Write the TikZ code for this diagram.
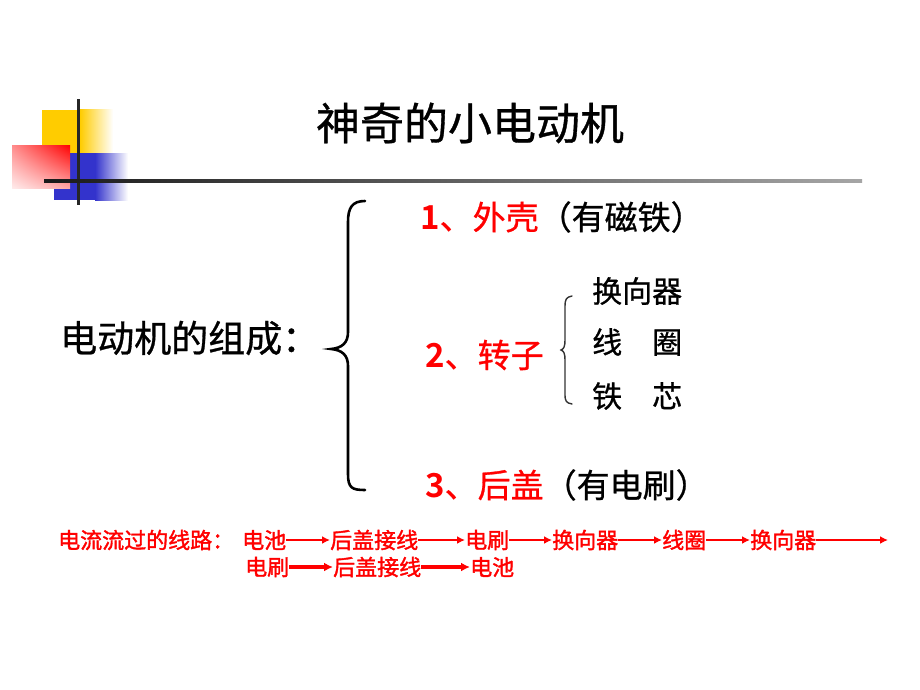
\documentclass[tikz,border=0pt]{standalone}
\usepackage{fontspec}
\newfontfamily\cjk[RawFeature={embolden=0.8}]{Noto Sans CJK SC}
\newfontfamily\cjkf[RawFeature={embolden=1.6}]{Noto Sans CJK SC}
\newfontfamily\cjkb{Noto Sans CJK SC Bold}
\usetikzlibrary{arrows.meta,shadings}
\definecolor{dyellow}{RGB}{255,204,0}
\definecolor{dblue}{RGB}{51,51,204}
\definecolor{dred}{RGB}{255,0,0}
\tikzset{
  txt/.style={inner sep=0pt, anchor=west, font=\cjk},
  title/.style={inner sep=0pt, font=\cjk\fontsize{44}{48}\selectfont},
  big/.style={txt, font=\cjk\fontsize{37}{40}\selectfont},
  mid/.style={txt, font=\cjk\fontsize{33}{36}\selectfont},
  small/.style={txt, font=\cjk\fontsize{30}{33}\selectfont},
  flow/.style={txt, text=dred, font=\cjkf\fontsize{22}{24}\selectfont},
  flowarrow/.style={draw=dred, line width=2.8pt, -{Latex[length=8pt,width=8pt]}},
  flowarrowb/.style={draw=dred, line width=3.8pt, -{Latex[length=9pt,width=9pt]}},
  brace/.style={draw=black, line width=2.6pt, line cap=round},
  sbrace/.style={draw=black!80, line width=1.4pt, line cap=round},
}
\begin{document}
\begin{tikzpicture}[x=1pt,y=-1pt]
\useasboundingbox (0,0) rectangle (920,690);
\fill[white] (0,0) rectangle (920,690);
% decoration
\fill[dyellow] (42,110) rectangle (80,153);
\shade[left color=dyellow, right color=white] (80,110) rectangle (113,153);
\fill[dblue] (54,153) rectangle (95,200);
\shade[left color=dblue, right color=white] (95,153) rectangle (128,200);
\shade[upper left=red!45, upper right=red, lower left=red!8, lower right=red!35] (12,145) rectangle (70,188);
\fill[black!85] (77,99) rectangle (80,205);
\shade[left color=black!90, right color=black!35] (44,179.5) rectangle (862,182.5);
% title
\node[title] (t) at (470,123) {神奇的小电动机};
% main
\node[big] (m) at (60,338) {电动机的组成：};
\draw[brace] (365,201) .. controls (352,201) and (348,208) .. (348,222) -- (348,332)
  .. controls (348,343) and (342,348) .. (331,349)
  .. controls (342,350) and (348,355) .. (348,366) -- (348,474)
  .. controls (348,488) and (352,490) .. (365,490);
\node[mid] (p1) at (420,217) {{\color{dred}{\cjkb 1}、外壳}（有磁铁）};
\node[mid] (p2) at (425,355) {\color{dred}{\cjkb 2}、转子};
\node[mid] (p3) at (425,485) {{\color{dred}{\cjkb 3}、后盖}（有电刷）};
\draw[sbrace] (572,296) .. controls (566,297) and (565,300) .. (565,306) -- (565,340)
  .. controls (565,346) and (564,349) .. (561,350)
  .. controls (564,351) and (565,354) .. (565,360) -- (565,394)
  .. controls (565,401) and (566,403) .. (572,404);
\node[small] (s1) at (592,291) {换向器};
\node[small] (s2) at (592,342) {线\hspace{1em}圈};
\node[small] (s3) at (592,396) {铁\hspace{1em}芯};
% flow
\node[flow] (f0) at (58,540) {电流流过的线路：};
\node[flow] (f1) at (242,540) {电池};
\node[flow] (f2) at (330,540) {后盖接线};
\node[flow] (f3) at (465,540) {电刷};
\node[flow] (f4) at (552,540) {换向器};
\node[flow] (f5) at (662,540) {线圈};
\node[flow] (f6) at (750,540) {换向器};
\coordinate (fe) at (888,540);
\draw[flowarrow] (f1.east) -- (f2.west);
\draw[flowarrow] (f2.east) -- (f3.west);
\draw[flowarrow] (f3.east) -- (f4.west);
\draw[flowarrow] (f4.east) -- (f5.west);
\draw[flowarrow] (f5.east) -- (f6.west);
\draw[flowarrow] (f6.east) -- (fe);
\node[flow] (g1) at (245,567) {电刷};
\node[flow] (g2) at (333,567) {后盖接线};
\node[flow] (g3) at (470,567) {电池};
\draw[flowarrowb] (g1.east) -- (g2.west);
\draw[flowarrowb] (g2.east) -- (g3.west);
\end{tikzpicture}
\end{document}
